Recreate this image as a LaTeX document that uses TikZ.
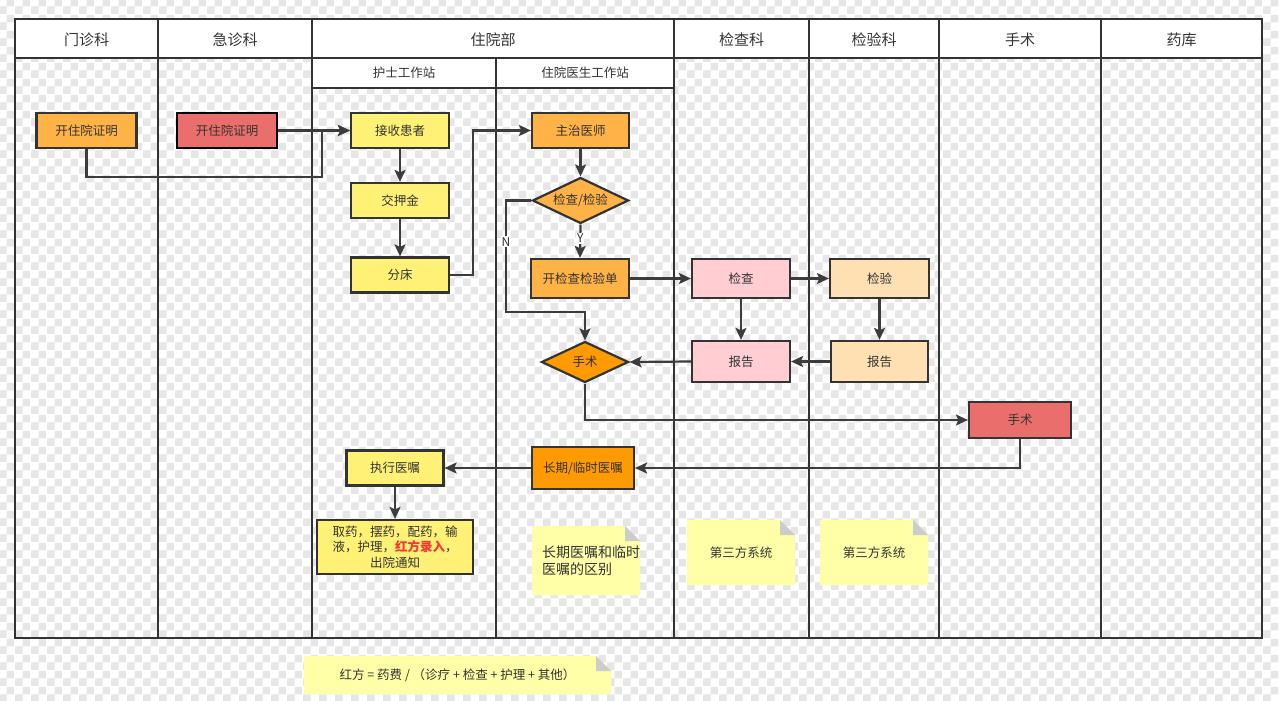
\documentclass[tikz,border=0pt]{standalone}
\usepackage{fontspec}
\setmainfont{Noto Sans CJK SC}
\usetikzlibrary{arrows.meta,shapes.geometric,patterns}

\definecolor{linec}{HTML}{333333}
\definecolor{connc}{HTML}{3C3C3C}
\definecolor{textc}{HTML}{333333}
\definecolor{checkc}{HTML}{E6E6E6}
\definecolor{orangef}{HTML}{FFB347}
\definecolor{redf}{HTML}{EA6F6C}
\definecolor{yellowf}{HTML}{FFF176}
\definecolor{pinkf}{HTML}{FFCDD2}
\definecolor{peachf}{HTML}{FFE0B2}
\definecolor{darkorangef}{HTML}{FF9A00}
\definecolor{notef}{HTML}{FFFFA8}
\definecolor{foldc}{HTML}{CCCCCC}
\definecolor{redtext}{HTML}{FF3333}

% transparent-canvas checkerboard
\pgfdeclarepatternformonly{checks}{\pgfqpoint{0pt}{0pt}}{\pgfqpoint{16pt}{16pt}}{\pgfqpoint{16pt}{16pt}}{%
  \pgfpathrectangle{\pgfqpoint{0pt}{0pt}}{\pgfqpoint{8pt}{8pt}}%
  \pgfpathrectangle{\pgfqpoint{8pt}{8pt}}{\pgfqpoint{8pt}{8pt}}%
  \pgfusepath{fill}}

% sticky note: name, x1, y1, x2, y2, fold, text options, text
\newcommand\stickynote[8]{%
  \fill[notef] (#2,#3) -- (#4-#6,#3) -- (#4,#3+#6) -- (#4,#5) -- (#2,#5) -- cycle;
  \fill[foldc] (#4-#6,#3) -- (#4-#6,#3+#6) -- (#4,#3+#6) -- cycle;
  \node[notetext,#7] (#1) at ({(#2+#4)/2},{(#3+#5)/2}) {#8};}

\tikzset{
  lane/.style={draw=linec, line width=2.2pt},
  hdr/.style={text=textc, font=\fontsize{15}{18}\selectfont, inner sep=0pt},
  subhdr/.style={text=textc, font=\fontsize{12.5}{15}\selectfont, inner sep=0pt},
  proc/.style={draw=linec, line width=2.2pt, inner sep=0pt, text=textc,
    font=\fontsize{12.5}{15}\selectfont, align=center},
  decision/.style={diamond, aspect=2, draw=linec, line width=2.2pt, inner sep=0pt,
    text=textc, font=\fontsize{12.5}{15}\selectfont},
  notetext/.style={text=textc, inner sep=0pt, font=\fontsize{12.5}{15}\selectfont, align=center},
  arr/.style={draw=connc, line width=2.2pt, -{Stealth[length=12pt,width=11pt,inset=2.5pt]}},
  yn/.style={fill=white, inner sep=1pt, text=textc, font=\fontsize{12}{14}\selectfont},
}

\begin{document}
\begin{tikzpicture}[x=1pt,y=-1pt]
\useasboundingbox (0,0) rectangle (1279,701);
\fill[white] (0,0) rectangle (1279,701);
\fill[pattern=checks, pattern color=checkc] (0,0) rectangle (1279,701);

% ---------- swimlanes ----------
\fill[white] (15,19) rectangle (1262,58);
\fill[white] (312,58) rectangle (674,88);
\foreach \x in {15,158,312,674,809,939,1101,1262}
  \draw[lane] (\x,19) -- (\x,638);
\draw[lane] (496,58) -- (496,638);
\draw[lane] (13.9,19) -- (1263.1,19);
\draw[lane] (15,58) -- (1262,58);
\draw[lane] (312,88) -- (674,88);
\draw[lane] (13.9,638) -- (1263.1,638);

\node[hdr] (h1) at (86.5,40) {门诊科};
\node[hdr] (h2) at (235,40) {急诊科};
\node[hdr] (h3) at (493,40) {住院部};
\node[hdr] (h4) at (741.5,40) {检查科};
\node[hdr] (h5) at (874,40) {检验科};
\node[hdr] (h6) at (1020,40) {手术};
\node[hdr] (h7) at (1181.5,40) {药库};
\node[subhdr] (s1) at (404,73) {护士工作站};
\node[subhdr] (s2) at (585,73) {住院医生工作站};

% ---------- process steps ----------
\node[proc, fill=orangef, minimum width=100pt, minimum height=35pt] (opd) at (86.5,130.5) {开住院证明};
\node[proc, fill=redf, draw=black, minimum width=100pt, minimum height=35pt] (emg) at (227,130.5) {开住院证明};
\node[proc, fill=yellowf, minimum width=98pt, minimum height=35pt] (recv) at (400,130.5) {接收患者};
\node[proc, fill=yellowf, minimum width=98pt, minimum height=35pt] (dep) at (400,200.5) {交押金};
\node[proc, fill=yellowf, minimum width=98pt, minimum height=35pt] (bed) at (400,275) {分床};
\node[proc, fill=orangef, minimum width=97pt, minimum height=35pt] (doc) at (580.5,130.5) {主治医师};
\node[decision, fill=orangef, minimum width=96pt, minimum height=46pt] (chk) at (580.5,200.5) {检查/检验};
\node[proc, fill=orangef, minimum width=98pt, minimum height=39pt] (order) at (580,278.5) {开检查检验单};
\node[proc, fill=pinkf, minimum width=98pt, minimum height=39pt] (exam) at (741,278.5) {检查};
\node[proc, fill=peachf, minimum width=99pt, minimum height=39pt] (lab) at (879.5,278.5) {检验};
\node[proc, fill=pinkf, minimum width=98pt, minimum height=41pt] (rep1) at (741,361.5) {报告};
\node[proc, fill=peachf, minimum width=97pt, minimum height=41pt] (rep2) at (879.5,361.5) {报告};
\node[decision, fill=darkorangef, minimum width=87pt, minimum height=41pt] (surg) at (585,362) {手术};
\node[proc, fill=redf, minimum width=102pt, minimum height=36pt] (op) at (1020,420) {手术};
\node[proc, fill=darkorangef, minimum width=102pt, minimum height=42pt] (long) at (583,468) {长期/临时医嘱};
\node[proc, fill=yellowf, minimum width=97pt, minimum height=35pt] (exec) at (395,468) {执行医嘱};
\node[proc, fill=yellowf, minimum width=156pt, minimum height=54pt, font=\fontsize{12.5}{15.5}\selectfont] (tasks) at (395,547)
  {取药，摆药，配药，输\\液，护理，\textcolor{redtext}{\bfseries 红方录入}，\\出院通知};

% ---------- connectors ----------
\draw[arr] (opd.south) |- (322,177) |- (recv.west);
\draw[arr] (emg.east) -- (recv.west);
\draw[arr] (recv.south) -- (dep.north);
\draw[arr] (dep.south) -- (bed.north);
\draw[arr] (bed.east) -- (473,275) |- (doc.west);
\draw[arr] (doc.south) -- (chk.north);
\draw[arr] (chk.south) -- node[yn, pos=0.42] (ylbl) {Y} (order.north);
\draw[arr] (chk.west) -- (506,200.5) -- node[yn, pos=0.37] (nlbl) {N} (506,312) -| (surg.north);
\draw[arr] (order.east) -- (exam.west);
\draw[arr] (exam.east) -- (lab.west);
\draw[arr] (exam.south) -- (rep1.north);
\draw[arr] (lab.south) -- (rep2.north);
\draw[arr] (rep2.west) -- (rep1.east);
\draw[arr] (rep1.west) -- (surg.east);
\draw[arr] (surg.south) |- (op.west);
\draw[arr] (op.south) |- (long.east);
\draw[arr] (long.west) -- (exec.east);
\draw[arr] (exec.south) -- (tasks.north);

% ---------- notes ----------
\stickynote{n1}{532}{526}{640}{595}{15}{align=left, text width=88pt, font=\fontsize{14}{16.5}\selectfont}{长期医嘱和临时\\医嘱的区别}
\stickynote{n2}{687}{520}{795}{585}{15}{}{第三方系统}
\stickynote{n3}{820}{520}{928}{585}{15}{}{第三方系统}
\stickynote{n4}{304}{656}{611}{694}{15}{}{红方 = 药费 / （诊疗 + 检查 + 护理 + 其他）}
\end{tikzpicture}
\end{document}
